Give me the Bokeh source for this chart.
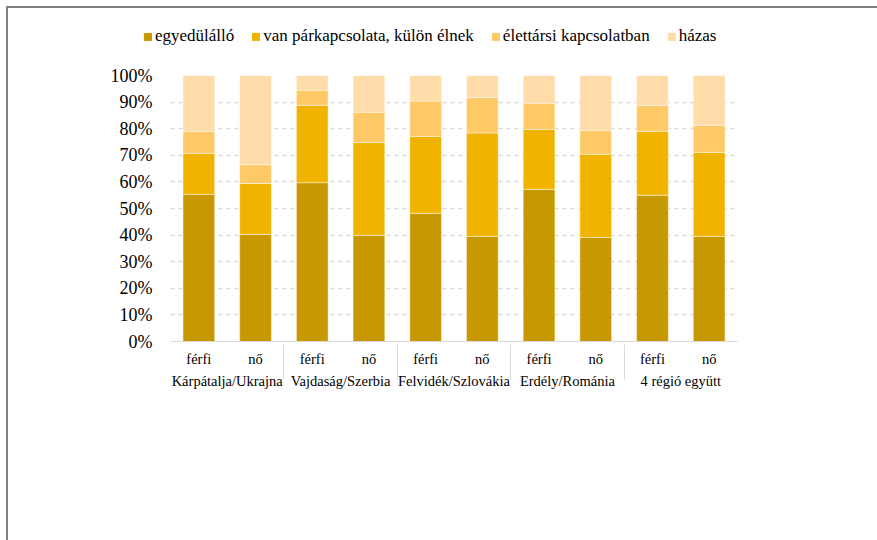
from bokeh.plotting import figure
from bokeh.layouts import column, row
from bokeh.models import (FactorRange, NumeralTickFormatter, FixedTicker, Legend, LegendItem,
                          ColumnDataSource, BoxAnnotation)
from bokeh.embed import file_html
from bokeh.resources import INLINE

regions = ["Kárpátalja/Ukrajna", "Vajdaság/Szerbia", "Felvidék/Szlovákia", "Erdély/Románia", "4 régió együtt"]
genders = ["férfi", "nő"]
series = ["egyedülálló", "van párkapcsolata, külön élnek", "élettársi kapcsolatban", "házas"]
egyedulallo = [55.3, 40.3, 59.7, 39.9, 48.2, 39.5, 57.2, 39.1, 55.0, 39.5]
kulon_elnek = [15.4, 19.1, 29.1, 34.9, 28.9, 38.9, 22.5, 31.3, 24.0, 31.6]
elettarsi = [8.3, 7.1, 5.7, 11.4, 13.3, 13.3, 9.9, 9.0, 9.8, 10.2]
hazas = [21.0, 33.5, 5.5, 13.8, 9.6, 8.3, 10.4, 20.6, 11.2, 18.7]
colors = ["#C89800", "#F0B400", "#FFC966", "#FFDCA8"]
y_ticks = [0, 0.1, 0.2, 0.3, 0.4, 0.5, 0.6, 0.7, 0.8, 0.9, 1.0]

factors = [(r, g) for r in regions for g in genders]
keys = ["s0", "s1", "s2", "s3"]
data = dict(x=factors)
for k, vals in zip(keys, [egyedulallo, kulon_elnek, elettarsi, hazas]):
    data[k] = [v / 100 for v in vals]
source = ColumnDataSource(data)

FONT = "Liberation Serif"

# ---- legend strip (separate figure so the legend may sit left of the plot frame)
lf = figure(width=869, height=57, x_range=(0, 1), y_range=(0, 1),
            x_axis_type=None, y_axis_type=None,
            output_backend="svg", toolbar_location=None,
            min_border_left=0, min_border_right=0, min_border_top=0, min_border_bottom=0)
lf.outline_line_color = None
lf.grid.grid_line_color = None
# legend key renderers: one point each, placed outside the visible range
dummy = [lf.vbar(x=[5], bottom=[5], top=[6], width=0.5, color=c) for c in colors]
legend = Legend(items=[LegendItem(label=s, renderers=[r]) for s, r in zip(series, dummy)],
                orientation="horizontal", location=(135, 19))
legend.glyph_width = 9
legend.glyph_height = 9
legend.label_standoff = 3
legend.spacing = 17
legend.padding = 0
legend.margin = 0
legend.border_line_color = None
legend.background_fill_alpha = 0
legend.label_text_font = FONT
legend.label_text_font_size = "17px"
legend.label_text_color = "black"
lf.add_layout(legend, "center")

# ---- main chart
p = figure(
    x_range=FactorRange(*factors, group_padding=0, factor_padding=0, range_padding=0),
    y_range=(0, 1),
    width=869, height=475,
    output_backend="svg", toolbar_location=None,
    min_border_left=162, min_border_right=140, min_border_top=10, min_border_bottom=199,
)
p.outline_line_color = None

p.vbar_stack(keys, x="x", width=0.56, source=source, color=colors,
             line_color="white", line_alpha=0.45, line_width=1)

p.yaxis.ticker = FixedTicker(ticks=y_ticks)
p.yaxis.formatter = NumeralTickFormatter(format="0%")
p.yaxis.axis_line_color = None
p.yaxis.major_tick_line_color = None
p.yaxis.minor_tick_line_color = None
p.yaxis.major_label_text_font = FONT
p.yaxis.major_label_text_font_size = "18px"
p.yaxis.major_label_text_color = "black"
p.yaxis.major_label_standoff = 12

p.xaxis.axis_line_color = "#d9d9d9"
p.xaxis.axis_line_width = 1
p.xaxis.major_tick_line_color = None
p.xaxis.major_label_text_font = FONT
p.xaxis.major_label_text_font_size = "14.5px"
p.xaxis.major_label_text_color = "black"
p.xaxis.major_label_standoff = 3
p.xaxis.group_text_font = FONT
p.xaxis.group_text_font_size = "14.5px"
p.xaxis.group_text_font_style = "normal"
p.xaxis.group_text_color = "black"
p.xaxis.separator_line_color = "#d9d9d9"
p.xaxis.separator_line_width = 1

# outer edges of the category-axis table (left and right vertical rules)
for edge in (162, 729):
    p.add_layout(BoxAnnotation(left=edge, right=edge, top=276, bottom=330,
                               left_units="canvas", right_units="canvas",
                               top_units="canvas", bottom_units="canvas",
                               fill_alpha=0, line_color="#d9d9d9", line_width=1))

p.xgrid.grid_line_color = None
p.ygrid.ticker = FixedTicker(ticks=y_ticks)
p.ygrid.grid_line_color = "#d9d9d9"
p.ygrid.grid_line_dash = "4 4"
p.ygrid.grid_line_width = 1.5

layout = column(row(lf), p, spacing=0,
                styles={"border-top": "2px solid #808080", "border-left": "2px solid #808080",
                        "margin-left": "6px", "margin-top": "6px"})

open("out.html", "w").write(file_html(layout, INLINE))
